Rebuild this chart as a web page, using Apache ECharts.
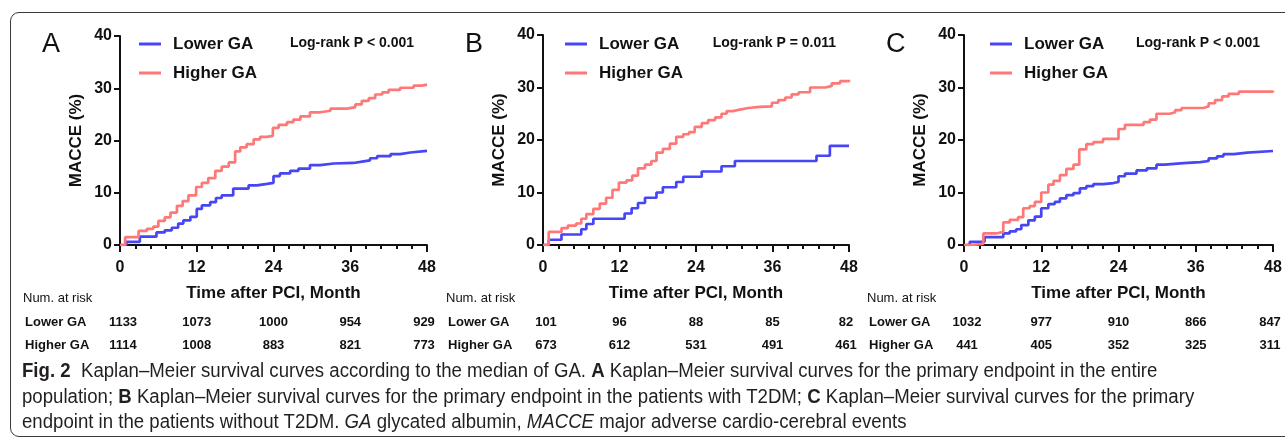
<!DOCTYPE html>
<html>
<head>
<meta charset="utf-8">
<script src="https://cdn.jsdelivr.net/npm/echarts@6/dist/echarts.min.js"></script>
<style>
  html, body { margin: 0; padding: 0; background: #fff; }
  #wrap { position: relative; width: 1285px; height: 442px; overflow: hidden; }
  #box {
    position: absolute; left: 10px; top: 12px; width: 1300px; height: 425px;
    border: 1px solid #3a3a3a; border-radius: 9px; box-sizing: border-box;
  }
  #chart { position: absolute; left: 0; top: 0; width: 1285px; height: 360px; }
  #caption {
    position: absolute; left: 22px; top: 358px;
    font-family: 'Liberation Sans', sans-serif;
    font-size: 20px; line-height: 25.5px; color: #231f20; white-space: nowrap;
  }
  #caption div { transform-origin: 0 50%; width: max-content; }
  #caption b { font-weight: bold; }
</style>
</head>
<body>
<div id="wrap">
  <div id="box"></div>
  <div id="chart"></div>
  <div id="caption">
    <div><b>Fig. 2</b>&nbsp; Kaplan–Meier survival curves according to the median of GA. <b>A</b> Kaplan–Meier survival curves for the primary endpoint in the entire</div>
    <div>population; <b>B</b> Kaplan–Meier survival curves for the primary endpoint in the patients with T2DM; <b>C</b> Kaplan–Meier survival curves for the primary</div>
    <div>endpoint in the patients without T2DM. <i>GA</i> glycated albumin, <i>MACCE</i> major adverse cardio-cerebral events</div>
  </div>
</div>

<script>
// tick labels / table times
const xTicks = [0, 12, 24, 36, 48]
const yTicks = [0, 10, 20, 30, 40]
const riskTimes = [0, 12, 24, 36, 48]
const panelLetters = ['A', 'B', 'C']
const pTexts = ['Log-rank P < 0.001', 'Log-rank P = 0.011', 'Log-rank P < 0.001']
const groupNames = ['Lower GA', 'Higher GA']

// A: entire population
const timeA_lower = [0, 1.0, 3.1, 5.7, 7.0, 8.1, 9.1, 9.9, 11.0, 12.0, 12.8, 14.1, 15.0, 15.9, 17.7, 20.1, 21.4, 23.0, 24.0, 25.0, 26.6, 27.9, 29.7, 31.3, 33.4, 36.5, 37.6, 39.1, 40.2, 42.3, 43.8, 45.4, 48]
const macceA_lower = [0, 0.6, 1.6, 2.4, 2.8, 3.3, 4.1, 4.7, 5.4, 6.9, 7.6, 8.2, 9.0, 9.5, 10.8, 11.4, 11.7, 11.9, 13.2, 13.7, 14.2, 14.6, 15.3, 15.6, 15.7, 15.9, 16.2, 16.6, 17.0, 17.4, 17.7, 18.0, 18.0]
const timeA_higher = [0, 0.8, 2.9, 4.2, 5.2, 6.0, 7.0, 7.9, 8.9, 9.8, 10.7, 11.9, 12.8, 13.8, 14.9, 15.9, 17.0, 18.0, 18.8, 19.8, 20.9, 21.9, 23.0, 23.9, 24.8, 26.1, 27.1, 28.2, 29.7, 31.3, 32.9, 35.5, 36.8, 37.8, 38.9, 39.9, 41.0, 42.0, 43.8, 45.9, 47.2, 48]
const macceA_higher = [0, 1.5, 2.7, 3.1, 3.5, 4.6, 5.3, 6.2, 7.5, 8.4, 9.5, 11.1, 11.9, 12.8, 14.2, 15.0, 15.8, 17.9, 18.7, 19.3, 20.2, 20.7, 20.9, 22.4, 23.0, 23.5, 24.0, 24.6, 25.4, 25.7, 26.1, 26.4, 26.9, 27.6, 28.1, 28.8, 29.2, 29.7, 30.1, 30.5, 30.7, 30.7]
const riskA_lower = [1133, 1073, 1000, 954, 929]
const riskA_higher = [1114, 1008, 883, 821, 773]

// B: with T2DM
const timeB_lower = [0, 0.9, 2.9, 6.0, 6.8, 7.9, 12.8, 13.9, 14.9, 16.0, 17.8, 18.8, 20.9, 22.0, 24.9, 28.0, 30.1, 42.9, 45.0, 48]
const macceB_lower = [0, 1, 2, 3, 4, 5, 6, 7, 8, 9, 10, 11, 12, 13, 14, 15, 16, 17, 18.9, 18.9]
const timeB_higher = [0, 0.9, 2.9, 3.9, 5.2, 6.0, 6.8, 7.9, 8.9, 9.9, 10.9, 11.9, 13.1, 14.0, 14.9, 16.0, 17.0, 17.8, 18.8, 19.9, 20.9, 22.0, 22.9, 23.8, 24.9, 25.9, 27.0, 28.0, 28.8, 29.8, 30.9, 32.2, 34.0, 35.9, 36.9, 38.0, 39.0, 40.1, 41.9, 44.3, 45.3, 46.6, 48]
const macceB_higher = [0, 2.5, 3.2, 3.7, 4.1, 5.0, 5.9, 6.9, 7.9, 9.0, 10.5, 11.9, 12.3, 13.2, 14.6, 15.3, 16.0, 17.6, 18.3, 19.3, 20.6, 21.1, 21.5, 22.5, 23.2, 23.8, 24.3, 25.0, 25.5, 25.8, 26.1, 26.3, 26.4, 27.1, 27.6, 28.1, 28.7, 29.1, 30.0, 30.3, 30.8, 31.2, 31.5]
const riskB_lower = [101, 96, 88, 85, 82]
const riskB_higher = [673, 612, 531, 491, 461]

// C: without T2DM
const timeC_lower = [0, 0.9, 3.2, 6.1, 7.1, 8.1, 8.9, 10.0, 11.0, 12.0, 13.1, 14.1, 14.9, 15.9, 17.0, 18.0, 19.0, 20.1, 21.6, 23.2, 24.0, 25.0, 26.8, 28.4, 29.9, 31.2, 34.1, 36.7, 38.0, 39.3, 40.3, 41.9, 44.0, 48]
const macceC_lower = [0, 0.6, 1.5, 2.2, 2.6, 3.0, 3.8, 4.7, 5.4, 7.0, 7.8, 8.2, 8.9, 9.5, 9.9, 10.8, 11.2, 11.6, 11.8, 12.0, 13.1, 13.6, 14.2, 14.6, 15.3, 15.6, 15.8, 16.0, 16.5, 16.9, 17.3, 17.6, 17.9, 17.9]
const timeC_higher = [0, 1.2, 3.0, 5.0, 6.1, 7.1, 8.4, 9.2, 10.2, 11.0, 12.0, 13.1, 13.9, 14.9, 15.9, 17.0, 17.9, 19.0, 20.1, 21.6, 24.0, 25.0, 27.9, 28.9, 29.9, 32.0, 32.8, 33.8, 37.2, 38.0, 39.0, 40.1, 41.1, 42.7, 48]
const macceC_higher = [0, 0.2, 2.2, 2.5, 4.3, 4.8, 5.3, 7.0, 7.4, 8.2, 10.0, 11.5, 12.2, 13.3, 14.5, 15.3, 18.2, 19.2, 19.6, 20.2, 22.1, 22.9, 23.4, 23.9, 25.0, 25.3, 25.7, 26.1, 26.4, 27.0, 27.6, 28.3, 28.8, 29.2, 29.4]
const riskC_lower = [1032, 977, 910, 866, 847]
const riskC_higher = [441, 405, 352, 325, 311]

const curves = [
  [[timeA_lower, macceA_lower], [timeA_higher, macceA_higher]],
  [[timeB_lower, macceB_lower], [timeB_higher, macceB_higher]],
  [[timeC_lower, macceC_lower], [timeC_higher, macceC_higher]]
]
const risks = [[riskA_lower, riskA_higher], [riskB_lower, riskB_higher], [riskC_lower, riskC_higher]]

const colorList = ['#4646f7', '#ff7878']
const FONT = '"Liberation Sans", Arial, sans-serif'
const grids = [
  { left: 120, top: 36, width: 307, height: 209 },
  { left: 543, top: 35, width: 306, height: 210 },
  { left: 964, top: 35, width: 309, height: 210 }
]
const legendLeft = [134, 560, 985]

const zip = (ts, vs) => ts.map((t, i) => [t, vs[i]])

const chart = echarts.init(document.getElementById('chart'))

const axisLine = { show: true, lineStyle: { color: '#111', width: 2 } }

chart.setOption({
  animation: false,
  grid: grids,
  legend: grids.map((g, i) => ({
    data: groupNames,
    orient: 'vertical',
    left: legendLeft[i],
    top: 29,
    itemGap: 9,
    itemWidth: 22,
    itemHeight: 3,
    icon: 'rect',
    textStyle: { fontFamily: FONT, fontSize: 17, fontWeight: 'bold', color: '#111', lineHeight: 20, padding: [0, 0, 0, 7] }
  })),
  xAxis: grids.map((g, i) => ({
    gridIndex: i,
    type: 'value',
    min: 0,
    max: 48,
    interval: 12,
    axisLine: axisLine,
    axisTick: { show: true, length: 7, lineStyle: { color: '#111', width: 2 } },
    minorTick: { show: true, splitNumber: 5, length: 4, lineStyle: { color: '#111', width: 2 } },
    splitLine: { show: false },
    axisLabel: {
      margin: 15, fontFamily: FONT, fontSize: 16, fontWeight: 'bold', color: '#111',
      formatter: v => xTicks.includes(v) ? String(v) : ''
    },
    name: 'Time after PCI, Month',
    nameLocation: 'middle',
    nameGap: 40,
    nameTextStyle: { fontFamily: FONT, fontSize: 17, fontWeight: 'bold', color: '#111' }
  })),
  yAxis: grids.map((g, i) => ({
    gridIndex: i,
    type: 'value',
    min: 0,
    max: 40,
    interval: 10,
    axisLine: axisLine,
    axisTick: { show: true, length: 6, lineStyle: { color: '#111', width: 2 } },
    splitLine: { show: false },
    axisLabel: {
      margin: 8, fontFamily: FONT, fontSize: 16, fontWeight: 'bold', color: '#111',
      formatter: v => yTicks.includes(v) ? String(v) : ''
    },
    name: 'MACCE (%)',
    nameLocation: 'middle',
    nameGap: 35,
    nameTextStyle: { fontFamily: FONT, fontSize: 17, fontWeight: 'bold', color: '#111' }
  })),
  series: curves.flatMap((pair, i) => pair.map((c, k) => ({
    name: groupNames[k],
    type: 'line',
    xAxisIndex: i,
    yAxisIndex: i,
    step: 'end',
    symbol: 'none',
    color: colorList[k],
    lineStyle: { width: 2.7, color: colorList[k] },
    data: zip(c[0], c[1])
  })))
})

// letters, p values and risk tables
const graphics = []
grids.forEach((g, i) => {
  graphics.push({
    type: 'text', x: g.left - 78, y: 45,
    style: { text: panelLetters[i], font: '27px ' + FONT, fill: '#111', textVerticalAlign: 'middle' }
  })
  graphics.push({
    type: 'text', x: g.left + g.width - 13, y: 43,
    style: { text: pTexts[i], font: 'bold 14px ' + FONT, fill: '#111', textAlign: 'right', textVerticalAlign: 'middle' }
  })
  const tx = g.left - 97
  graphics.push({
    type: 'text', x: tx, y: 298,
    style: { text: 'Num. at risk', font: '13px ' + FONT, fill: '#111', textVerticalAlign: 'middle' }
  })
  const rowY = [322, 345]
  groupNames.forEach((name, k) => {
    graphics.push({
      type: 'text', x: tx + 2, y: rowY[k],
      style: { text: name, font: 'bold 13px ' + FONT, fill: '#111', textVerticalAlign: 'middle' }
    })
    riskTimes.forEach((t, j) => {
      let px = chart.convertToPixel({ xAxisIndex: i }, t)
      if (j === 0) px += 3
      if (j === riskTimes.length - 1) px -= 3
      graphics.push({
        type: 'text', x: px, y: rowY[k],
        style: { text: String(risks[i][k][j]), font: 'bold 13px ' + FONT, fill: '#111', textAlign: 'center', textVerticalAlign: 'middle' }
      })
    })
  })
})
chart.setOption({ graphic: graphics })

// squeeze the caption to the condensed width of the figure font (one scale for all lines)
const lineEnds = [1180, 1235, 843]
const lines = Array.from(document.querySelectorAll('#caption div'))
const natural = lines.map(el => el.getBoundingClientRect().width)
const wanted = lineEnds.reduce((s, e) => s + e - 22, 0)
const scale = wanted / natural.reduce((s, w) => s + w, 0)
lines.forEach(el => { el.style.transform = 'scaleX(' + scale.toFixed(3) + ')' })
</script>
</body>
</html>
